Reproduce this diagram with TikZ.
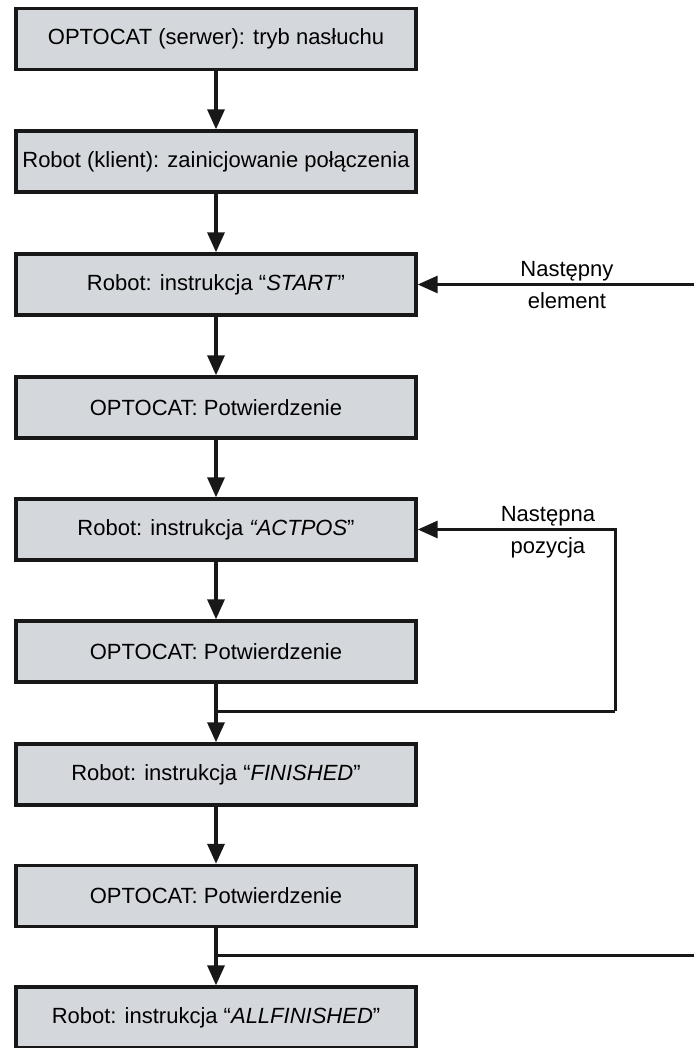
\documentclass[tikz,border=0pt]{standalone}
\usepackage{fontspec}
\setmainfont{Liberation Sans}
\usetikzlibrary{arrows.meta}

\definecolor{boxgray}{RGB}{212,216,220}
\definecolor{linegray}{RGB}{24,24,24}

\begin{document}
\begin{tikzpicture}[x=1pt, y=-1pt, >={Triangle[length=20pt, width=17pt]},
    box/.style={draw=linegray, line width=3.4pt, fill=boxgray, minimum width=400pt,
        minimum height=61pt, inner sep=0pt, font=\fontsize{22}{26}\selectfont},
    flow/.style={->, draw=linegray, line width=3.4pt},
    back/.style={draw=linegray, line width=3pt},
    lblup/.style={anchor=base, yshift=8pt, font=\fontsize{22}{26}\selectfont},
    lbldown/.style={anchor=base, yshift=-24pt, font=\fontsize{22}{26}\selectfont}]
    \useasboundingbox (0,0) rectangle (694,1048);

    % Kroki komunikacji
    \node[box] (listen)   at (216,39)     {OPTOCAT (serwer): tryb nasłuchu};
    \node[box] (connect)  at (216,161.5)  {Robot (klient): zainicjowanie połączenia};
    \node[box] (start)    at (216,284.5)  {Robot: instrukcja “\textit{START}”};
    \node[box] (ack1)     at (216,407.5)  {OPTOCAT: Potwierdzenie};
    \node[box] (actpos)   at (216,529.5)  {Robot: instrukcja \textit{“ACTPOS}”};
    \node[box] (ack2)     at (216,651.5)  {OPTOCAT: Potwierdzenie};
    \node[box] (finished) at (216,774.5)  {Robot: instrukcja “\textit{FINISHED}”};
    \node[box] (ack3)     at (216,896)    {OPTOCAT: Potwierdzenie};
    \node[box] (allfin)   at (216,1017.5) {Robot: instrukcja “\textit{ALLFINISHED}”};

    % Punkty pomocnicze petli
    \coordinate (j1) at (216,711);
    \coordinate (r1) at (615,711);
    \coordinate (j2) at (216,955);
    \coordinate (e1) at (694,284.5);
    \coordinate (e2) at (694,955);

    % Strzalki glowne
    \draw[flow] (listen) -- (connect);
    \draw[flow] (connect) -- (start);
    \draw[flow] (start) -- (ack1);
    \draw[flow] (ack1) -- (actpos);
    \draw[flow] (actpos) -- (ack2);
    \draw[flow] (ack2) -- (finished);
    \draw[flow] (finished) -- (ack3);
    \draw[flow] (ack3) -- (allfin);

    % Nastepna pozycja
    \draw[back] (j1) -- (r1);
    \draw[back, ->] (r1) |- (actpos.east)
        node[pos=0.67, lblup] {Następna} node[pos=0.67, lbldown] {pozycja};

    % Nastepny element
    \draw[back, ->] (e1) -- (start.east)
        node[pos=0.46, lblup] {Następny} node[pos=0.46, lbldown] {element};
    \draw[back] (e2) -- (j2);
\end{tikzpicture}
\end{document}
